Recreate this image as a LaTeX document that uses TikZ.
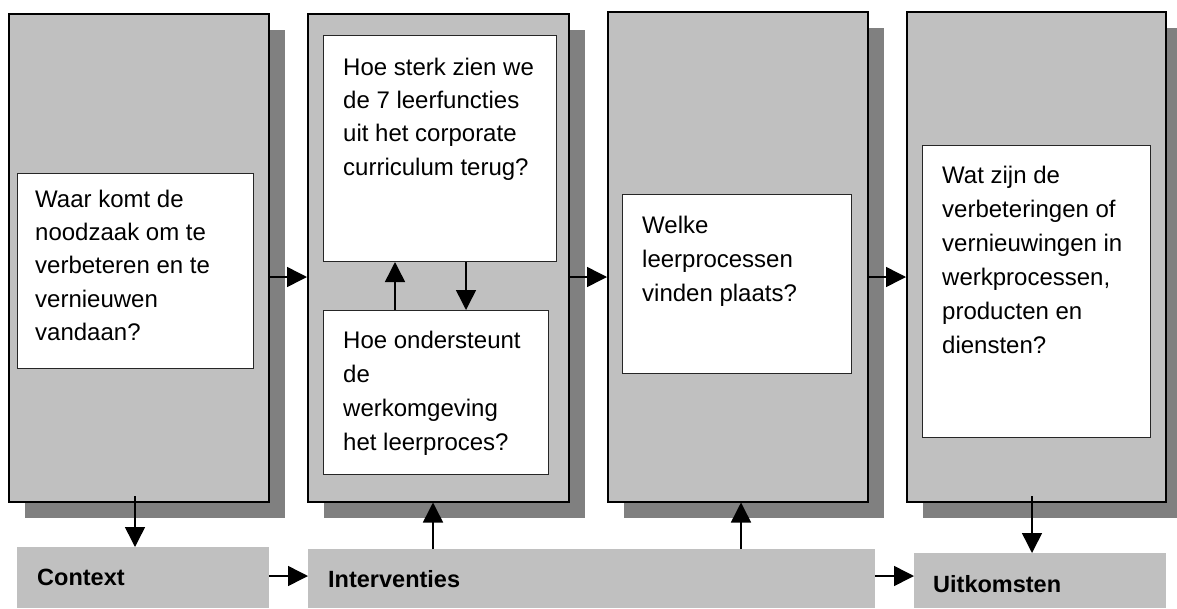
\documentclass[tikz,border=0pt]{standalone}
\usepackage{fontspec}
\setmainfont{Liberation Sans}
\usetikzlibrary{arrows.meta,shadows,calc}
\definecolor{panelgray}{HTML}{C0C0C0}
\definecolor{shadowgray}{HTML}{808080}
\tikzset{
  panel/.style={draw=black, line width=1.5pt, fill=panelgray, anchor=north west, inner sep=0pt,
    drop shadow={shadow xshift=16pt, shadow yshift=-16pt, fill=shadowgray, opacity=1}},
  qbox/.style={draw=black!85, line width=1pt, fill=white, anchor=north west, inner sep=0pt},
  labbox/.style={fill=panelgray, anchor=north west, inner sep=0pt},
  qtext/.style={anchor=base west, inner sep=0pt, align=left, font=\fontsize{24}{34}\selectfont},
  qtextb/.style={anchor=base west, inner sep=0pt, align=left, font=\fontsize{24}{33.4}\selectfont},
  labtext/.style={anchor=base west, inner sep=0pt, font=\fontsize{23.5}{28}\selectfont\bfseries},
  arr/.style={line width=1.5pt, -{Triangle[length=20pt,width=20pt]}},
}
\begin{document}
\begin{tikzpicture}[x=1pt,y=-1pt]
\useasboundingbox (0,0) rectangle (1177,608);
% panels
\node[panel, minimum width=260pt, minimum height=488pt] (p1) at (8,13) {};
\node[panel, minimum width=261pt, minimum height=488pt] (p2) at (307,13) {};
\node[panel, minimum width=260pt, minimum height=490pt] (p3) at (607,11) {};
\node[panel, minimum width=259pt, minimum height=490pt] (p4) at (906,11) {};
% question boxes
\node[qbox, minimum width=236pt, minimum height=195pt] (b1) at (17,173) {};
\node[qbox, minimum width=233pt, minimum height=226pt] (b2a) at (323,35) {};
\node[qbox, minimum width=225pt, minimum height=164pt] (b2b) at (323,310) {};
\node[qbox, minimum width=229pt, minimum height=179pt] (b3) at (622,194) {};
\node[qbox, minimum width=228pt, minimum height=292pt] (b4) at (922,145) {};
% question texts (anchored at the baseline of their last line)
\node[qtextb] (t1) at (35,340.6) {Waar komt de\\noodzaak om te\\verbeteren en te\\vernieuwen\\vandaan?};
\node[qtextb] (t2a) at (343,175.2) {Hoe sterk zien we\\de 7 leerfuncties\\uit het corporate\\curriculum terug?};
\node[qtext] (t2b) at (343,450) {Hoe ondersteunt\\de\\werkomgeving\\het leerproces?};
\node[qtext] (t3) at (642,301) {Welke\\leerprocessen\\vinden plaats?};
\node[qtext] (t4) at (942,353) {Wat zijn de\\verbeteringen of\\vernieuwingen in\\werkprocessen,\\producten en\\diensten?};
% bottom label boxes
\node[labbox, minimum width=252pt, minimum height=61pt] (ctx) at (17,547) {};
\node[labbox, minimum width=567pt, minimum height=59pt] (int) at (308,549) {};
\node[labbox, minimum width=252pt, minimum height=55pt] (uit) at (914,553) {};
\node[labtext] (lctx) at (37,585) {Context};
\node[labtext] (lint) at (328,587) {Interventies};
\node[labtext] (luit) at (933,592) {Uitkomsten};
% helper coordinates
\coordinate (hrow) at (0,277);
\coordinate (brow) at (0,576);
\coordinate (c1s) at (135,496);
\coordinate (d4s) at (1032,496);
\coordinate (u1) at (433,0);
\coordinate (u2) at (741,0);
\coordinate (iu) at (395,0);
\coordinate (id) at (466,0);
% arrows between panels
\draw[arr] (hrow -| p1.east) -- (hrow -| p2.west);
\draw[arr] (hrow -| p2.east) -- (hrow -| p3.west);
\draw[arr] (hrow -| p3.east) -- (hrow -| p4.west);
% arrows inside panel 2
\draw[arr] (iu |- b2b.north) -- (iu |- b2a.south);
\draw[arr] (id |- b2a.south) -- (id |- b2b.north);
% vertical arrows to/from label boxes
\draw[arr] (c1s) -- (c1s |- ctx.north);
\draw[arr] (u1 |- int.north) -- (u1 |- p2.south);
\draw[arr] (u2 |- int.north) -- (u2 |- p3.south);
\draw[arr] (d4s) -- (d4s |- uit.north);
% arrows between label boxes
\draw[arr] (brow -| ctx.east) -- (brow -| int.west);
\draw[arr] (brow -| int.east) -- (brow -| uit.west);
\end{tikzpicture}
\end{document}
